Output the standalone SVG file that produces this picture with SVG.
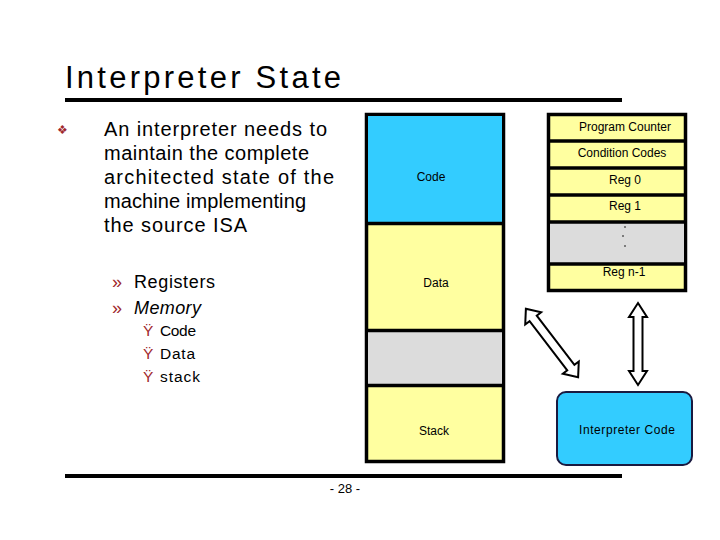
<svg xmlns="http://www.w3.org/2000/svg" width="720" height="540" viewBox="0 0 720 540">
<style>
text{font-family:"Liberation Sans",Arial,sans-serif;fill:#000}
.lbl{font-size:12px;text-anchor:middle}
.body{font-size:20px}
.sub{font-size:18px}
.subsub{font-size:15.5px}
.red{fill:#a0282c}
.blk{stroke:#000;stroke-width:3.5}
.arrow{fill:#fff;stroke:#000;stroke-width:2;stroke-linejoin:miter}
</style>
<rect width="720" height="540" fill="#fff"/>
<text x="65" y="88" style="font-size:31px" textLength="276">Interpreter State</text>
<line x1="65" y1="100" x2="622" y2="100" stroke="#000" stroke-width="4"/>
<line x1="65" y1="476" x2="622" y2="476" stroke="#000" stroke-width="4"/>
<text x="345" y="493" class="lbl" style="font-size:13px">- 28 -</text>

<g id="bullets">
<text x="57" y="134" class="red" style="font-size:12px">❖</text>
<text x="104" y="136" class="body" textLength="223">An interpreter needs to</text>
<text x="104" y="160" class="body" textLength="205">maintain the complete</text>
<text x="104" y="184" class="body" textLength="230">architected state of the</text>
<text x="104" y="208" class="body" textLength="202">machine implementing</text>
<text x="104" y="232" class="body" textLength="143">the source ISA</text>
<text x="112" y="288" class="red sub">»</text>
<text x="134" y="288" class="sub" textLength="81">Registers</text>
<text x="112" y="314" class="red sub">»</text>
<text x="134" y="314" class="sub" font-style="italic" textLength="67">Memory</text>
<text x="143" y="336" class="red subsub">Ÿ</text>
<text x="160" y="336" class="subsub" textLength="36">Code</text>
<text x="143" y="359" class="red subsub">Ÿ</text>
<text x="160" y="359" class="subsub" textLength="35">Data</text>
<text x="143" y="382" class="red subsub">Ÿ</text>
<text x="160" y="382" class="subsub" textLength="40">stack</text>
</g>

<g id="memory">
<rect x="366.5" y="114.5" width="137" height="347" fill="#ffffa0" class="blk"/>
<rect x="368" y="116" width="134" height="107" fill="#33ccff"/>
<rect x="368" y="331" width="134" height="54" fill="#dcdcdc"/>
<line x1="366" y1="223.5" x2="504" y2="223.5" class="blk"/>
<line x1="366" y1="330.5" x2="504" y2="330.5" class="blk"/>
<line x1="366" y1="385.5" x2="504" y2="385.5" class="blk"/>
<text x="431" y="181" class="lbl">Code</text>
<text x="436" y="287" class="lbl">Data</text>
<text x="434" y="435" class="lbl">Stack</text>
</g>

<g id="registers">
<rect x="548.5" y="114.5" width="137" height="176" fill="#ffffa0" class="blk"/>
<rect x="550" y="223" width="134" height="41" fill="#dcdcdc"/>
<line x1="548" y1="141" x2="686" y2="141" class="blk"/>
<line x1="548" y1="168" x2="686" y2="168" class="blk"/>
<line x1="548" y1="195" x2="686" y2="195" class="blk"/>
<line x1="548" y1="222" x2="686" y2="222" class="blk"/>
<line x1="548" y1="264" x2="686" y2="264" class="blk"/>
<text x="625" y="131" class="lbl">Program Counter</text>
<text x="622" y="157" class="lbl">Condition Codes</text>
<text x="625" y="184" class="lbl">Reg 0</text>
<text x="625" y="210" class="lbl">Reg 1</text>
<circle cx="625" cy="227" r="0.8" fill="#000"/>
<circle cx="623" cy="236" r="0.8" fill="#000"/>
<circle cx="625" cy="246" r="0.8" fill="#000"/>
<text x="624" y="276" class="lbl">Reg n-1</text>
</g>

<g id="interpreter-code">
<rect x="557" y="392" width="135" height="73" rx="9" fill="#33ccff" stroke="#1a1a40" stroke-width="2"/>
<text x="627" y="434" class="lbl" textLength="96">Interpreter Code</text>
</g>

<g id="connectors">
<polygon class="arrow" points="638,303 647,317 642.5,317 642.5,371 647,371 638,385 629,371 633.5,371 633.5,317 629,317"/>
<g transform="translate(552,343) rotate(52.6)">
<polygon class="arrow" points="-43,0 -31,-10 -31,-4.5 31,-4.5 31,-10 43,0 31,10 31,4.5 -31,4.5 -31,10"/>
</g>
</g>
</svg>
